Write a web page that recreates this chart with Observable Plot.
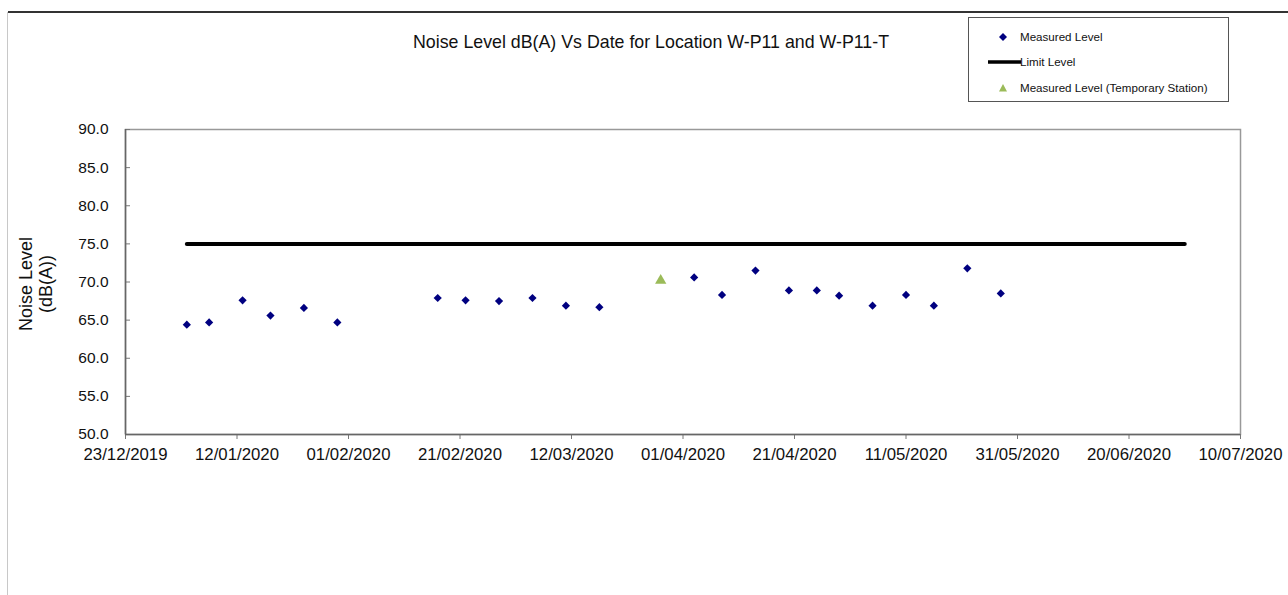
<!DOCTYPE html>
<html>
<head>
<meta charset="utf-8">
<script src="https://cdn.jsdelivr.net/npm/d3@7"></script>
<script src="https://cdn.jsdelivr.net/npm/@observablehq/plot@0.6"></script>
<style>
  html, body { margin: 0; padding: 0; background: #fff; }
  body { width: 1288px; height: 595px; position: relative; overflow: hidden; font-family: "Liberation Sans", Arial, sans-serif; }
  #chart { position: absolute; left: 0; top: 0; }
  .topline { position: absolute; left: 8px; top: 11px; width: 1280px; height: 0; border-top: 2px solid #333; }
  .leftline { position: absolute; left: 7px; top: 12px; width: 0; height: 583px; border-left: 1px solid #c8c8c8; }
  .title { position: absolute; left: 0; width: 1302px; top: 32px; text-align: center; font-size: 17.8px; color: #111; }
  .ylabel { position: absolute; left: 36px; top: 284px; transform: translate(-50%, -50%) rotate(-90deg); text-align: center; font-size: 18px; line-height: 20px; color: #111; white-space: nowrap; }
  .legend { position: absolute; left: 968px; top: 17px; width: 261px; height: 85px; border: 1px solid #555; box-sizing: border-box; background: #fff; font-size: 11.6px; color: #111; }
  .legend .row { position: absolute; left: 0; height: 14px; line-height: 14px; }
  .legend svg { position: absolute; top: 0; }
  .legend span { position: absolute; white-space: nowrap; }
</style>
</head>
<body>
<div class="topline"></div>
<div class="leftline"></div>
<div id="chart"></div>
<div class="title">Noise Level dB(A) Vs Date for Location W-P11 and W-P11-T</div>
<div class="ylabel">Noise Level<br>(dB(A))</div>
<div class="legend">
  <div class="row" style="top:12px;">
    <svg width="20" height="14" style="left:24px"><path d="M10,3 L14,7 L10,11 L6,7 Z" fill="#000080"/></svg>
    <span style="left:51px;">Measured Level</span>
  </div>
  <div class="row" style="top:37px;">
    <svg width="40" height="14" style="left:17px"><line x1="2" y1="7" x2="35" y2="7" stroke="#000" stroke-width="3.5"/></svg>
    <span style="left:51px;">Limit Level</span>
  </div>
  <div class="row" style="top:63px;">
    <svg width="20" height="14" style="left:24px"><path d="M10,3 L14,10.5 L6,10.5 Z" fill="#9bbb59"/></svg>
    <span style="left:51px;">Measured Level (Temporary Station)</span>
  </div>
</div>
<script>
// ---- data ----
const measuredDates = ["2020-01-03","2020-01-07","2020-01-13","2020-01-18","2020-01-24","2020-01-30",
  "2020-02-17","2020-02-22","2020-02-28","2020-03-05","2020-03-11","2020-03-17",
  "2020-04-03","2020-04-08","2020-04-14","2020-04-20","2020-04-25","2020-04-29",
  "2020-05-05","2020-05-11","2020-05-16","2020-05-22","2020-05-28"];
const measuredLevels = [64.4, 64.7, 67.6, 65.6, 66.6, 64.7,
  67.9, 67.6, 67.5, 67.9, 66.9, 66.7,
  70.6, 68.3, 71.5, 68.9, 68.9, 68.2,
  66.9, 68.3, 66.9, 71.8, 68.5];
const tempDates = ["2020-03-28"];
const tempLevels = [70.2];
const limitDates = ["2020-01-03", "2020-06-30"];
const limitLevels = [75, 75];
const xTickLabels = ["23/12/2019","12/01/2020","01/02/2020","21/02/2020","12/03/2020","01/04/2020",
  "21/04/2020","11/05/2020","31/05/2020","20/06/2020","10/07/2020"];
const yTicks = [50, 55, 60, 65, 70, 75, 80, 85, 90];

// ---- build ----
const parseDMY = s => { const [d, m, y] = s.split("/").map(Number); return new Date(Date.UTC(y, m - 1, d)); };
const toDate = s => new Date(s + "T00:00:00Z");
const xTicks = xTickLabels.map(parseDMY);
const measured = measuredDates.map((d, i) => ({date: toDate(d), level: measuredLevels[i]}));
const temp = tempDates.map((d, i) => ({date: toDate(d), level: tempLevels[i]}));
const limit = limitDates.map((d, i) => ({date: toDate(d), level: limitLevels[i]}));
const fmt = d3.utcFormat("%d/%m/%Y");

const chart = Plot.plot({
  width: 1288,
  height: 595,
  marginLeft: 125,
  marginRight: 48,
  marginTop: 129,
  marginBottom: 161,
  style: {fontFamily: "'Liberation Sans', Arial, sans-serif", fontSize: "15px", color: "#111", background: "transparent"},
  x: {type: "utc", domain: [xTicks[0], xTicks[xTicks.length - 1]]},
  y: {domain: [50, 90]},
  marks: [
    Plot.frame({stroke: "#999", strokeWidth: 1.5}),
    Plot.axisY({ticks: yTicks, tickFormat: d => d.toFixed(1), tickSize: -5, tickPadding: 22, label: null, stroke: "#777", fontSize: 15.5}),
    Plot.axisX({ticks: xTicks, tickFormat: fmt, tickSize: 5, tickPadding: 9, label: null, stroke: "#777", fontSize: 16.8}),
    Plot.ruleX([xTicks[0]], {stroke: "#666", strokeWidth: 1.5}),
    Plot.ruleY([50], {stroke: "#666", strokeWidth: 1.5}),
    Plot.line(limit, {x: "date", y: "level", stroke: "#000", strokeWidth: 4}),
    Plot.dot(measured, {x: "date", y: "level", symbol: "diamond2", r: 3.7, fill: "#000080", stroke: "none"}),
    Plot.dot(temp, {x: "date", y: "level", symbol: "triangle", r: 4.2, fill: "#9bbb59", stroke: "none"})
  ]
});
document.getElementById("chart").appendChild(chart);
</script>
</body>
</html>
